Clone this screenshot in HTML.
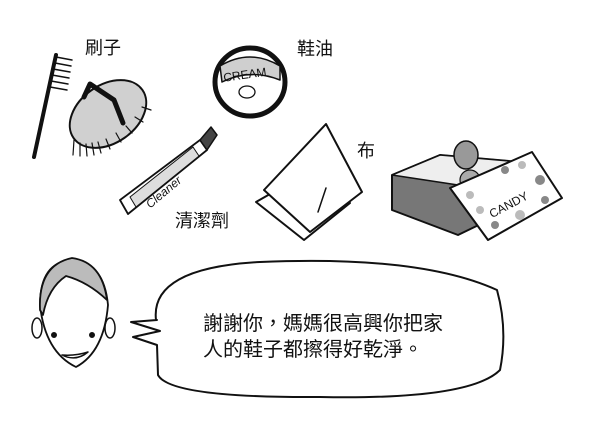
<!DOCTYPE html>
<html><head><meta charset="utf-8"><style>
html,body{margin:0;padding:0;background:#fff;width:600px;height:434px;overflow:hidden}
svg{display:block}
.t{font-family:"Liberation Sans","Noto Sans CJK TC",sans-serif;fill:#111}
</style></head><body>
<svg width="600" height="434" viewBox="0 0 600 434" stroke="#111" stroke-linecap="round" stroke-linejoin="round">
<!-- toothbrush -->
<line x1="34" y1="157" x2="56" y2="55" stroke-width="4"/>
<g stroke-width="1.5"><line x1="56" y1="57" x2="72" y2="60"/><line x1="55" y1="63" x2="71" y2="66"/><line x1="53" y1="69" x2="70" y2="72"/><line x1="52" y1="75" x2="69" y2="78"/><line x1="51" y1="81" x2="68" y2="84"/><line x1="50" y1="87" x2="67" y2="90"/></g>
<!-- oval brush -->
<ellipse cx="108" cy="114" rx="42" ry="29" transform="rotate(-35 108 114)" fill="#d0d0d0" stroke-width="2"/>
<g stroke-width="1.2"><line x1="74" y1="140" x2="73" y2="155"/><line x1="80" y1="143" x2="80" y2="156"/><line x1="86" y1="144" x2="87" y2="156"/><line x1="92" y1="143" x2="94" y2="155"/><line x1="98" y1="142" x2="101" y2="153"/><line x1="106" y1="139" x2="110" y2="149"/><line x1="116" y1="133" x2="121" y2="142"/><line x1="126" y1="126" x2="132" y2="133"/><line x1="135" y1="117" x2="143" y2="122"/><line x1="142" y1="107" x2="151" y2="110"/></g>
<path d="M84 97 L90 84 L114 100 L123 123" fill="none" stroke-width="5"/>
<!-- cream tin -->
<ellipse cx="250" cy="82" rx="35" ry="34" fill="#fff" stroke-width="5"/>
<path d="M220 66 Q250 48 280 66 L280 80 Q250 68 222 82 Z" fill="#cfcfcf" stroke-width="1.5"/>
<text x="223" y="78" class="t" font-size="12" stroke="none" transform="rotate(-8 250 73)">CREAM</text>
<ellipse cx="247" cy="92" rx="8" ry="6" fill="none" stroke-width="1.3"/>
<!-- tube -->
<path d="M120 200 L200 140 L207 150 L128 214 Z" fill="#fff" stroke-width="1.8"/>
<path d="M200 140 L211 127 L217 135 L207 150 Z" fill="#444" stroke-width="1.5"/>
<path d="M130 197 L193 147 L199 156 L136 207 Z" fill="#ddd" stroke-width="1"/>
<text x="136" y="200" class="t" font-size="12" font-style="italic" stroke="none" transform="rotate(-40 155 185)">Cleaner</text>
<!-- cloth -->
<path d="M256 202 L304 240 L350 203 L312 170 Z" fill="#fff" stroke-width="2"/>
<path d="M264 190 L310 232 L362 192 L326 124 Z" fill="#fff" stroke-width="2"/>
<line x1="326" y1="188" x2="318" y2="212" stroke-width="1.5"/>
<!-- candy box -->
<path d="M392 175 L440 155 L520 162 L520 205 L458 235 L392 210 Z" fill="#777" stroke-width="2"/>
<path d="M392 175 L440 155 L520 162 L458 185 Z" fill="#eee" stroke-width="1.5"/>
<ellipse cx="466" cy="155" rx="12" ry="14" fill="#999" stroke-width="1.5"/>
<ellipse cx="470" cy="180" rx="10" ry="10" fill="#aaa" stroke-width="1.2"/>
<path d="M450 188 L532 152 L562 198 L488 240 Z" fill="#fff" stroke-width="2"/>
<g stroke="none" fill="#888"><circle cx="505" cy="170" r="4"/><circle cx="522" cy="165" r="4" fill="#bbb"/><circle cx="540" cy="180" r="5"/><circle cx="480" cy="210" r="4" fill="#bbb"/><circle cx="520" cy="215" r="5" fill="#bbb"/><circle cx="545" cy="200" r="4"/><circle cx="495" cy="225" r="4"/><circle cx="470" cy="195" r="4" fill="#bbb"/></g>
<text x="485" y="210" class="t" font-size="12" stroke="none" transform="rotate(-28 505 200)">CANDY</text>
<!-- labels -->
<g class="t" font-size="18" stroke="none">
<text x="85" y="54">刷子</text>
<text x="297" y="55">鞋油</text>
<text x="357" y="157">布</text>
<text x="175" y="227">清潔劑</text>
</g>
<!-- face -->
<path d="M40 305 Q40 262 72 260 Q104 262 108 305 Q104 352 76 367 Q45 352 40 305 Z" fill="#fff" stroke-width="1.8"/>
<path d="M40 310 Q38 265 72 258 Q102 262 107 300 Q88 282 66 276 Q48 288 43 315 Z" fill="#bbb" stroke-width="1.8"/>
<ellipse cx="37" cy="328" rx="5" ry="10" fill="none" stroke-width="1.5"/>
<ellipse cx="110" cy="328" rx="5" ry="10" fill="none" stroke-width="1.5"/>
<circle cx="54" cy="335" r="2.5" fill="#111"/><circle cx="92" cy="335" r="2.5" fill="#111"/>
<path d="M62 355 Q76 362 88 352 Q76 356 62 355Z" fill="#fff" stroke-width="1.5"/>
<!-- bubble -->
<path d="M156 320 Q150 268 260 262 Q420 255 497 290 Q508 330 500 370 Q470 400 320 397 Q170 398 158 375 L157 345 L133 337 L160 331 L131 322 L157 320 Z" fill="#fff" stroke-width="2"/>
<g class="t" font-size="20" stroke="none">
<text x="203" y="330">謝謝你，媽媽很高興你把家</text>
<text x="203" y="356">人的鞋子都擦得好乾淨。</text>
</g>
</svg>
</body></html>
